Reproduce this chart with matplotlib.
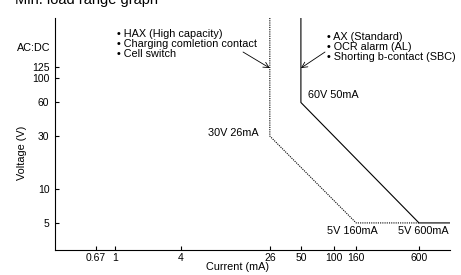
import numpy as np
import matplotlib
matplotlib.use('Agg')
import matplotlib.pyplot as plt

plt.rcParams['font.family'] = ['Liberation Sans', 'DejaVu Sans']

# data
x_ticks = [0.67, 1, 4, 26, 50, 100, 160, 600]
y_ticks = [5, 10, 30, 60, 100, 125]
x_lim = [0.283, 1152]
y_lim = [2.86, 343]

# standard contacts (solid line)
std_i = [50, 50, 600, 1152]
std_v = [343, 60, 5, 5]
# high capacity contacts (dotted line)
hax_i = [26, 26, 160, 600]
hax_v = [343, 30, 5, 5]

W, H = 461, 275
fig = plt.figure(figsize=(W / 100, H / 100), dpi=100)

def fx(px):
    return px / W

def fy(py):
    return 1 - py / H

ax = fig.add_axes([fx(55), fy(250), fx(450) - fx(55), fy(18) - fy(250)])
ax.set_xscale('log')
ax.set_yscale('log')
ax.set_xlim(x_lim)
ax.set_ylim(y_lim)

ax.plot(std_i, std_v, color='black', lw=0.8, solid_capstyle='butt')
ax.plot(hax_i, hax_v, color='black', lw=0.8, linestyle=(0, (1, 1)))

ax.set_xticks(x_ticks)
ax.set_xticklabels(['0.67', '1', '4', '26', '50', '100', '160', '600'])
ax.set_yticks(y_ticks)
ax.set_yticklabels([str(v) for v in y_ticks])
ax.minorticks_off()
ax.tick_params(direction='in', length=3, width=0.8, labelsize=7.5, pad=2.5)
ax.tick_params(axis='y', pad=4)
for s in ['top', 'right']:
    ax.spines[s].set_visible(False)
for s in ['left', 'bottom']:
    ax.spines[s].set_linewidth(0.8)

fs = 7.8
# arrows to the vertical parts of the lines
ax.annotate('', xy=(26, 122), xytext=(14.8, 170),
            arrowprops=dict(arrowstyle='->', color='black', lw=0.6, shrinkA=0, shrinkB=0))
ax.annotate('', xy=(50, 122), xytext=(83, 170),
            arrowprops=dict(arrowstyle='->', color='black', lw=0.6, shrinkA=0, shrinkB=0))

fig.text(fx(117), fy(44), '• HAX (High capacity)\n• Charging comletion contact\n• Cell switch',
         fontsize=fs, va='center', ha='left', linespacing=1.0)
fig.text(fx(327), fy(47), '• AX (Standard)\n• OCR alarm (AL)\n• Shorting b-contact (SBC)',
         fontsize=fs, va='center', ha='left', linespacing=1.0)

fig.text(fx(308), fy(95), '60V 50mA', fontsize=fs, va='center', ha='left')
fig.text(fx(208), fy(133), '30V 26mA', fontsize=fs, va='center', ha='left')
fig.text(fx(378), fy(231), '5V 160mA', fontsize=fs, va='center', ha='right')
fig.text(fx(449), fy(231), '5V 600mA', fontsize=fs, va='center', ha='right')

fig.text(fx(50), fy(48), 'AC:DC', fontsize=fs, va='center', ha='right')
fig.text(fx(22), fy(153), 'Voltage (V)', fontsize=fs, va='center', ha='center', rotation=90)
fig.text(fx(237), fy(267), 'Current (mA)', fontsize=fs, va='center', ha='center')
fig.text(fx(15), fy(4), 'Min. load range graph', fontsize=10.5, va='baseline', ha='left')

fig.savefig('out.png', dpi=100)
